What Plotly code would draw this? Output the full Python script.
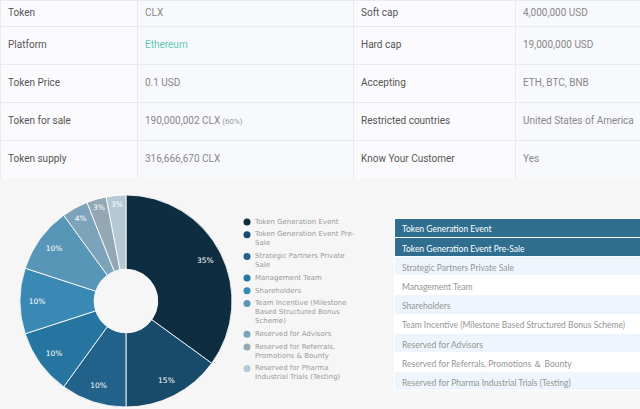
import textwrap
import plotly.graph_objects as go

# ---------------- data ----------------
info_labels_left = ["Token", "Platform", "Token Price", "Token for sale", "Token supply"]
info_values_left = ["CLX", "Ethereum", "0.1 USD", "190,000,002 CLX", "316,666,670 CLX"]
info_notes_left = ["", "", "", "(60%)", ""]
info_labels_right = ["Soft cap", "Hard cap", "Accepting", "Restricted countries", "Know Your Customer"]
info_values_right = ["4,000,000 USD", "19,000,000 USD", "ETH, BTC, BNB", "United States of America", "Yes"]

categories = ["Token Generation Event", "Token Generation Event Pre-Sale",
              "Strategic Partners Private Sale", "Management Team", "Shareholders",
              "Team Incentive (Milestone Based Structured Bonus Scheme)",
              "Reserved for Advisors", "Reserved for Referrals, Promotions & Bounty",
              "Reserved for Pharma Industrial Trials (Testing)"]
shares = [35, 15, 10, 10, 10, 10, 4, 3, 3]
colors = ["#0f2d40", "#184b6a", "#21618a", "#2674a0", "#3a89b5", "#5896b8",
          "#7ca3b9", "#93a8b4", "#b4c9d4"]

W, H = 640, 409
BG = "#f6f6f6"
LINK = "#5cc9b8"


def rich(s, size=10, color=None, note=""):
    # a tiny invisible first line pushes the real text down to the row centre
    style = f"font-size:{size}px" + (f";color:{color}" if color else "")
    out = f"\u00a0<br><span style='{style}'>{s}</span>"
    if note:
        out += f"<span style='font-size:8px;color:#999999'> {note}</span>"
    return out


fig = go.Figure()

# ---------------- top info table ----------------
top_px = 178
col_l = [rich(s) for s in info_labels_left[1:]]
col_v = [rich(s, color=(LINK if s == "Ethereum" else None), note=n)
         for s, n in zip(info_values_left[1:], info_notes_left[1:])]
col_r = [rich(s) for s in info_labels_right[1:]]
col_rv = [rich(s) for s in info_values_right[1:]]
fills = ["#fbfbfd", "#f8f9fc", "#fbfbfd", "#f8f9fc"]
fcols = ["#555555", "#888888", "#555555", "#888888"]
fig.add_trace(go.Table(
    domain=dict(x=[0, 1], y=[(H - top_px) / H, 1]),
    columnwidth=[137, 216, 162, 125],
    header=dict(
        values=[info_labels_left[0], info_values_left[0], info_labels_right[0], info_values_right[0]],
        height=26, align="left", fill_color=fills,
        line=dict(color="#e8eaee", width=1),
        font=dict(family="Roboto", size=10, color=fcols),
    ),
    cells=dict(
        values=[col_l, col_v, col_r, col_rv],
        height=38, align="left", fill_color=fills,
        line=dict(color="#e8eaee", width=1),
        font=dict(family="Roboto", size=6.5, color=fcols),
    ),
))

# ---------------- doughnut ----------------
cx, cy, r = 126, 301, 106
pie_domain = dict(x=[(cx - r) / W, (cx + r) / W], y=[(H - cy - r) / H, (H - cy + r) / H])
fig.add_trace(go.Pie(
    labels=categories, values=shares, sort=False, direction="clockwise", rotation=0,
    hole=0.30, showlegend=False, textinfo="none",
    marker=dict(colors=colors, line=dict(color="rgba(255,255,255,0.85)", width=1)),
    domain=pie_domain,
))
# percentage labels sit in the outer part of the ring
fig.add_trace(go.Pie(
    labels=categories, values=shares, sort=False, direction="clockwise", rotation=0,
    hole=0.68, showlegend=False, hoverinfo="skip",
    marker=dict(colors=["rgba(0,0,0,0)"] * len(shares), line=dict(width=0)),
    textinfo="percent", textposition="inside", insidetextorientation="horizontal",
    textfont=dict(family="DejaVu Sans", size=7.5, color="white"),
    domain=pie_domain,
))

# ---------------- custom legend (circles) ----------------
wrapped = [textwrap.wrap(c, width=27) for c in categories]
nlines = [len(w) for w in wrapped]
line_h, gap, first = 9.0, 12.7, 42
ys = []
y = first
for n in nlines:
    ys.append(y)
    y += (n - 1) * line_h + gap
fig.add_trace(go.Scatter(
    x=[7] * len(categories), y=ys, mode="markers",
    marker=dict(color=colors, size=7, line=dict(width=0)),
    hoverinfo="skip", showlegend=False, xaxis="x", yaxis="y",
))
fig.add_trace(go.Scatter(
    x=[15] * len(categories), y=[yy + (n - 1) * line_h / 2 for yy, n in zip(ys, nlines)],
    mode="text", text=["<br>".join(w) for w in wrapped], textposition="middle right",
    textfont=dict(family="DejaVu Sans", size=7, color="#9a9a9a"),
    hoverinfo="skip", showlegend=False, xaxis="x", yaxis="y",
))

# ---------------- right allocation table ----------------
# plotly tables enlarge rows whose text contains "&"; use the full-width form to keep rows even
table_rows = [c.replace("&", "\uff06") for c in categories]
row_fills = ["#2f6e8e", "#eef5fc", "#ffffff", "#eef5fc", "#ffffff", "#eef5fc", "#ffffff", "#eef5fc"]
row_fonts = ["#ffffff"] + ["#959595"] * 7
fig.add_trace(go.Table(
    domain=dict(x=[394 / W, 1], y=[0, (H - 218) / H]),
    header=dict(values=[table_rows[0]], height=19.2, align="left", fill_color="#2f6e8e",
                line=dict(color="white", width=1),
                font=dict(family="Lato", size=8.5, color="white")),
    cells=dict(values=[table_rows[1:]], height=19.2, align="left",
               fill_color=[row_fills], line=dict(color="white", width=1),
               font=dict(family="Lato", size=8.5, color=[row_fonts])),
))

fig.update_layout(
    width=W, height=H, margin=dict(l=0, r=0, t=0, b=0),
    paper_bgcolor="white", plot_bgcolor="rgba(0,0,0,0)",
    xaxis=dict(domain=[240 / W, 400 / W], range=[0, 160], visible=False, fixedrange=True),
    yaxis=dict(domain=[0, (H - 180) / H], range=[229, 0], visible=False, fixedrange=True),
    shapes=[dict(type="rect", xref="paper", yref="paper", x0=0, x1=1, y0=0, y1=(H - top_px) / H,
                 fillcolor=BG, line=dict(width=0), layer="below")],
)

fig.write_html("out.html")
